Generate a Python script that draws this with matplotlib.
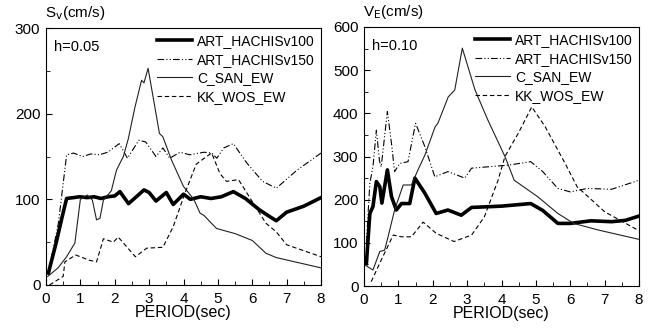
import numpy as np
import matplotlib
matplotlib.use('Agg')
import matplotlib.pyplot as plt
from matplotlib.ticker import MultipleLocator

plt.rcParams['font.family'] = ['Liberation Sans', 'DejaVu Sans']

# ---------------------------------------------------------------------------
# Left panel: Sv (cm/s), h=0.05
# ---------------------------------------------------------------------------
sv_art100_t = [0.07, 0.3, 0.46, 0.6, 0.8, 0.98, 1.2, 1.4, 1.6, 1.8, 2.0, 2.15, 2.4,
               2.6, 2.85, 3.0, 3.2, 3.5, 3.7, 4.0, 4.2, 4.5, 4.8, 5.1, 5.45, 5.8,
               6.2, 6.5, 6.7, 7.0, 7.5, 8.0]
sv_art100_v = [14, 50, 78, 101, 102, 103, 102, 103, 101, 103, 104, 109, 95,
               102, 111, 108, 98, 108, 94, 106, 100, 103, 101, 103, 109, 101,
               88, 80, 75, 85, 92, 102]

sv_art150_t = [0.07, 0.36, 0.6, 0.8, 1.07, 1.3, 1.55, 1.8, 2.13, 2.37, 2.7, 2.9,
               3.2, 3.4, 3.6, 3.9, 4.18, 4.6, 4.82, 4.97, 5.17, 5.45, 5.85, 6.3,
               6.7, 7.3, 8.0]
sv_art150_v = [14, 72, 152, 154, 150, 153, 152, 155, 165, 148, 169, 167,
               150, 160, 148, 155, 152, 155, 154, 148, 160, 165, 142, 121,
               113, 134, 154]

sv_csan_t = [0.05, 0.35, 0.6, 0.84, 1.0, 1.2, 1.35, 1.47, 1.57, 1.67, 1.9, 2.05,
             2.25, 2.39, 2.59, 2.78, 2.85, 2.97, 3.3, 3.4, 3.65, 4.0, 4.3, 4.48,
             4.6, 4.96, 5.5, 6.0, 6.4, 6.7, 8.0]
sv_csan_v = [10, 20, 33, 49, 100, 105, 99, 76, 78, 99, 110, 134,
             150, 170, 208, 239, 236, 253, 177, 173, 146, 115, 100, 84,
             81, 66, 60, 52, 37, 32, 20]

sv_kk_t = [0.1, 0.5, 0.55, 0.86, 1.0, 1.25, 1.47, 1.67, 1.96, 2.1, 2.6, 2.93, 3.4,
           3.7, 4.04, 4.37, 4.67, 4.82, 5.06, 5.25, 5.6, 6.1, 6.4, 6.7, 7.0, 8.0]
sv_kk_v = [0, 10, 27, 35, 33, 29, 27, 54, 50, 56, 33, 43, 44,
           68, 107, 141, 150, 154, 130, 121, 123, 91, 72, 62, 47, 33]

# ---------------------------------------------------------------------------
# Right panel: VE (cm/s), h=0.10
# ---------------------------------------------------------------------------
ve_art100_t = [0.07, 0.17, 0.26, 0.36, 0.46, 0.52, 0.68, 0.8, 0.94, 1.09, 1.33, 1.48,
               1.77, 2.1, 2.44, 2.83, 3.13, 4.0, 4.85, 5.2, 5.64, 6.0, 6.6, 7.2,
               7.6, 8.0]
ve_art100_v = [52, 168, 184, 242, 230, 192, 269, 207, 176, 191, 191, 250,
               215, 168, 176, 164, 182, 185, 191, 175, 145, 145, 151, 149,
               152, 162]

ve_art150_t = [0.07, 0.17, 0.26, 0.36, 0.45, 0.5, 0.68, 0.8, 0.89, 1.04, 1.28, 1.5,
               1.77, 2.06, 2.44, 2.93, 3.13, 4.2, 4.85, 5.2, 5.64, 6.0, 6.5, 7.2,
               8.0]
ve_art150_v = [100, 238, 276, 361, 290, 276, 404, 330, 265, 284, 288, 377,
               323, 253, 265, 250, 273, 280, 288, 265, 226, 218, 226, 224,
               245]

ve_csan_t = [0.02, 0.26, 0.46, 0.6, 0.7, 0.89, 1.14, 1.38, 1.57, 1.77, 2.07, 2.15,
             2.45, 2.64, 2.86, 3.23, 3.6, 4.1, 4.37, 5.05, 5.64, 6.1, 6.8, 8.0]
ve_csan_v = [49, 37, 80, 83, 114, 176, 234, 234, 269, 303, 369, 377,
             438, 454, 551, 454, 385, 300, 245, 207, 168, 145, 130, 108]

ve_kk_t = [0.21, 0.5, 0.85, 1.09, 1.38, 1.72, 2.1, 2.62, 3.13, 3.5, 3.9, 4.1,
           4.49, 4.88, 5.27, 5.85, 6.2, 7.0, 8.0]
ve_kk_v = [10, 60, 118, 114, 114, 148, 122, 103, 118, 160, 245, 300,
           354, 415, 369, 284, 230, 172, 128]

labels = ['ART_HACHISv100', 'ART_HACHISv150', 'C_SAN_EW', 'KK_WOS_EW']

fig = plt.figure(figsize=(6.52, 3.29), dpi=100)
ax1 = fig.add_axes([46 / 652, 1 - 285 / 329, 275 / 652, 257 / 329])
ax2 = fig.add_axes([364 / 652, 1 - 286 / 329, 275 / 652, 259 / 329])


def draw_panel(ax, series, ymax, ystep, ylab, htxt):
    styles = [dict(color='black', lw=2.6, ls='-'),
              dict(color='black', lw=0.8, ls=(0, (6, 2, 1, 2, 1, 2))),
              dict(color='#222222', lw=0.8, ls='-'),
              dict(color='black', lw=0.8, ls=(0, (4, 2.5)))]
    for (t, v), st, lab in zip(series, styles, labels):
        ax.plot(t, v, label=lab, **st)
    ax.set_xlim(0, 8)
    ax.set_ylim(0, ymax)
    ax.xaxis.set_major_locator(MultipleLocator(1))
    ax.xaxis.set_minor_locator(MultipleLocator(0.5))
    ax.yaxis.set_major_locator(MultipleLocator(ystep))
    ax.yaxis.set_minor_locator(MultipleLocator(50))
    ax.tick_params(which='both', direction='in', top=False, right=False,
                   labelsize=11)
    ax.tick_params(axis='x', pad=5)
    ax.tick_params(axis='y', pad=4)
    ax.tick_params(which='major', length=4)
    ax.tick_params(which='minor', length=3)
    ax.set_xlabel('PERIOD(sec)', fontsize=11.5, labelpad=-1)
    ax.text(-0.005, 1.025, ylab, transform=ax.transAxes, fontsize=11,
            ha='left', va='bottom')
    ax.text(0.03, 0.955, htxt, transform=ax.transAxes, fontsize=10.5,
            ha='left', va='top')
    ax.legend(loc='upper right', frameon=False, fontsize=10,
              handlelength=2.5, handletextpad=0.35, labelspacing=0.32,
              borderaxespad=0.25, borderpad=0.2)


draw_panel(ax1, [(sv_art100_t, sv_art100_v), (sv_art150_t, sv_art150_v),
                 (sv_csan_t, sv_csan_v), (sv_kk_t, sv_kk_v)],
           300, 100, r'S$_{\rm v}$(cm/s)', 'h=0.05')
draw_panel(ax2, [(ve_art100_t, ve_art100_v), (ve_art150_t, ve_art150_v),
                 (ve_csan_t, ve_csan_v), (ve_kk_t, ve_kk_v)],
           600, 100, r'V$_{\rm E}$(cm/s)', 'h=0.10')

plt.savefig('out.png', dpi=100)
plt.close('all')
